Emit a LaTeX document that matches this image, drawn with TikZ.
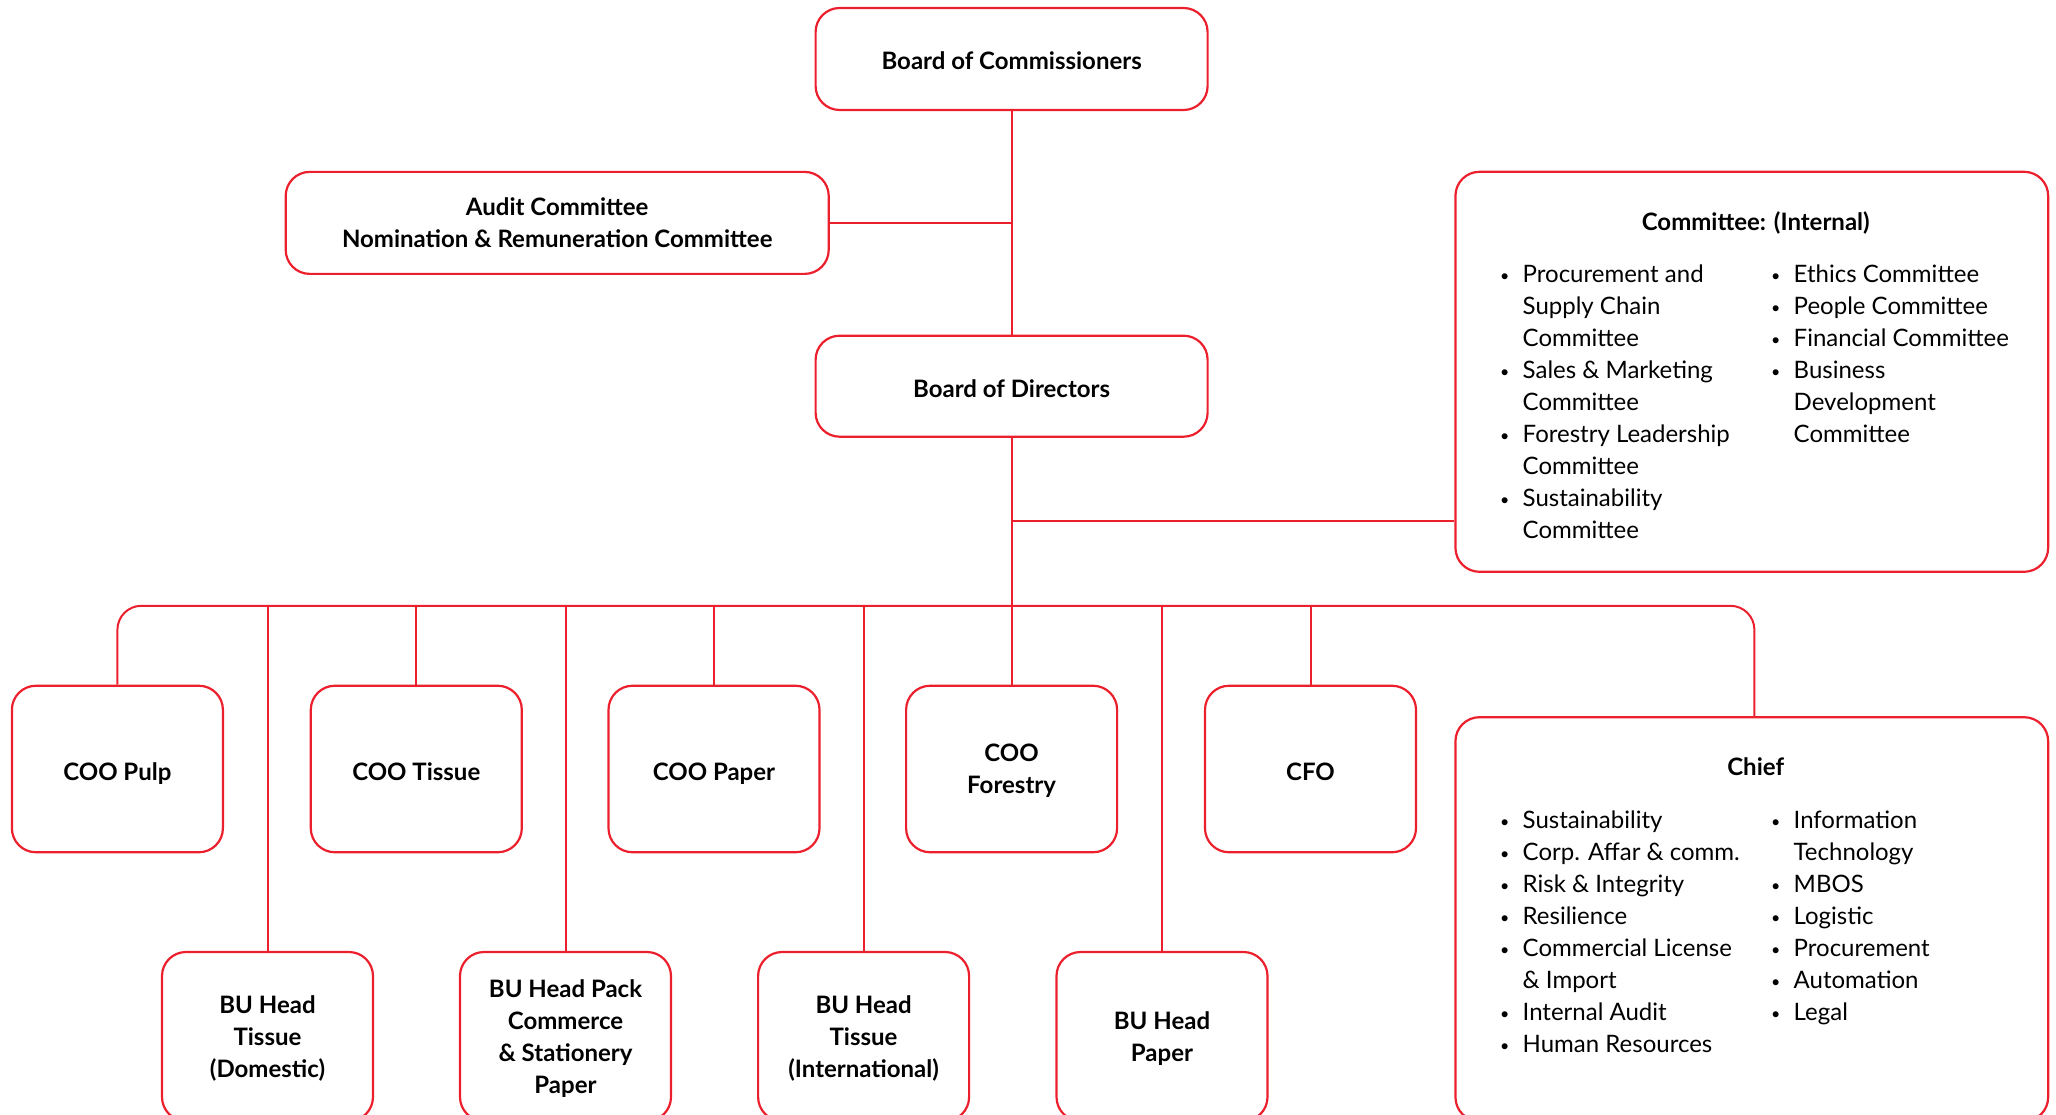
\documentclass[tikz,border=0pt]{standalone}
\usepackage{fontspec}
\setmainfont{Lato}
\definecolor{appred}{RGB}{236,32,45}
\newcommand\lbul{\makebox[18.5pt][l]{\hspace*{-4pt}\raisebox{1pt}{\fontsize{16}{16}\selectfont •}}}
\newcommand\lnob{\hspace*{18.5pt}}
\begin{document}
\begin{tikzpicture}[x=1pt,y=-1pt,
  box/.style={draw=appred, line width=2.2pt, rounded corners=24pt, inner sep=0pt, align=center,
    text depth=0pt, font=\fontsize{24}{32}\selectfont\bfseries},
  one/.style={text height=22pt},
  link/.style={draw=appred, line width=2pt},
  ttl/.style={anchor=base, inner sep=0pt, font=\fontsize{24}{32}\selectfont\bfseries},
  listtxt/.style={anchor=west, inner sep=0pt, text height=16.5pt, text depth=4.5pt,
    font=\fontsize{24}{32}\selectfont}]
\useasboundingbox (0,0) rectangle (2056,1115);
% top
\node[box, one, minimum width=392pt, minimum height=102pt] (boc) at (1011.6,59) {Board of Commissioners};
\node[box, minimum width=543pt, minimum height=102pt] (audit) at (557.2,222.9) {Audit Committee\\Nomination \& Remuneration Committee};
\node[box, one, minimum width=392pt, minimum height=101pt] (bod) at (1011.6,386.2) {Board of Directors};
\node[box, minimum width=592.7pt, minimum height=400pt] (cint) at (1751.8,371.8) {};
% COO row
\node[box, one, minimum width=211pt, minimum height=166.5pt] (pulp) at (117.4,769) {COO Pulp};
\node[box, one, minimum width=211pt, minimum height=166.5pt] (tissue) at (416.3,769) {COO Tissue};
\node[box, one, minimum width=211pt, minimum height=166.5pt] (paper) at (714,769) {COO Paper};
\node[box, minimum width=211pt, minimum height=166.5pt] (forestry) at (1011.6,769) {COO\\Forestry};
\node[box, one, minimum width=211pt, minimum height=166.5pt] (cfo) at (1310.5,769) {CFO};
\node[box, minimum width=592.7pt, minimum height=404pt] (chief) at (1751.8,919.2) {};
% BU row
\node[box, minimum width=211pt, minimum height=169pt] (bud) at (267.5,1036.5) {BU Head\\Tissue\\(Domestic)};
\node[box, minimum width=211pt, minimum height=169pt] (bupack) at (565.5,1036.5) {BU Head Pack\\Commerce\\\& Stationery\\Paper};
\node[box, minimum width=211pt, minimum height=169pt] (bui) at (863.6,1036.5) {BU Head\\Tissue\\(International)};
\node[box, minimum width=211pt, minimum height=169pt] (bup) at (1162,1036.5) {BU Head\\Paper};
% connectors
\coordinate (bus) at (0,605.8);
\coordinate (cl) at (1011.6,520.5);
\coordinate (chiefx) at (1754.4,0);
\draw[link] (boc) -- (bod);
\draw[link] (audit.east) -- (audit.east -| boc.south);
\draw[link] (bod) -- (forestry);
\draw[link] (cl) -- (cl -| cint.west);
\draw[link, rounded corners=24pt] (pulp.north) -- (pulp.north |- bus) -- (chiefx |- bus) -- (chiefx |- chief.north);
\foreach \n in {tissue,paper,cfo,bud,bupack,bui,bup}
  \draw[link] (\n.north) -- (\n.north |- bus);
% Committee (Internal) contents
\node[ttl] (cinttitle) at (1755.7,230.2) {Committee: (Internal)};
\foreach [count=\i from 0] \t in {{\lbul Procurement and},{\lnob Supply Chain},{\lnob Committee},
  {\lbul Sales \& Marketing},{\lnob Committee},{\lbul Forestry Leadership},{\lnob Committee},
  {\lbul Sustainability},{\lnob Committee}}
  \node[listtxt] (cl\i) at (1504,276.5+32*\i) {\t};
\foreach [count=\i from 0] \t in {{\lbul Ethics Committee},{\lbul People Committee},
  {\lbul Financial Committee},{\lbul Business},{\lnob Development},{\lnob Committee}}
  \node[listtxt] (cr\i) at (1775,276.5+32*\i) {\t};
% Chief contents
\node[ttl] (chieftitle) at (1755.7,775.6) {Chief};
\foreach [count=\i from 0] \t in {{\lbul Sustainability},{\lbul Corp. Affar \& comm.},
  {\lbul Risk \& Integrity},{\lbul Resilience},{\lbul Commercial License},{\lnob \& Import},
  {\lbul Internal Audit},{\lbul Human Resources}}
  \node[listtxt] (hl\i) at (1504,822+32*\i) {\t};
\foreach [count=\i from 0] \t in {{\lbul Information},{\lnob Technology},{\lbul MBOS},
  {\lbul Logistic},{\lbul Procurement},{\lbul Automation},{\lbul Legal}}
  \node[listtxt] (hr\i) at (1775,822+32*\i) {\t};
\end{tikzpicture}
\end{document}
